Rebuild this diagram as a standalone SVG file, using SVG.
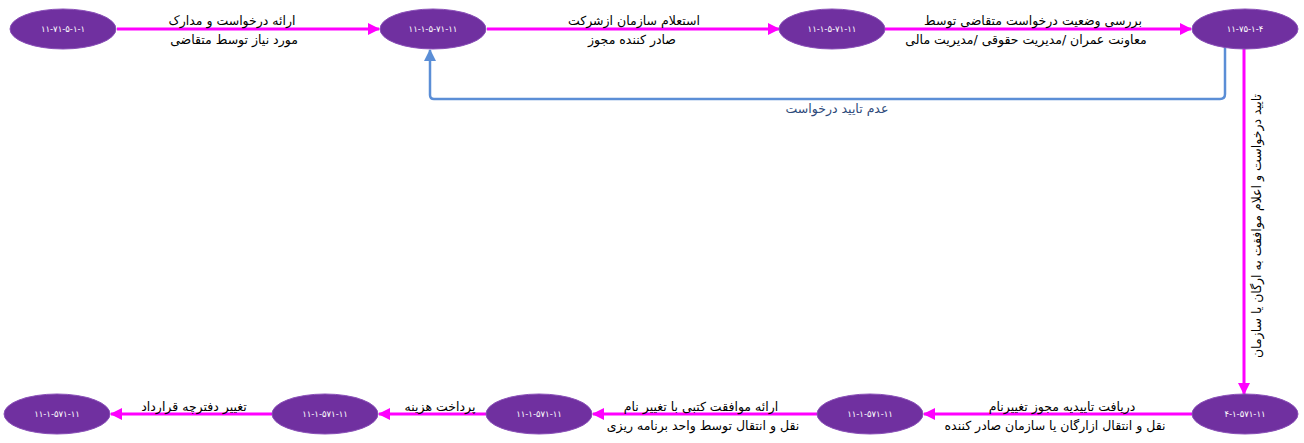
<svg xmlns="http://www.w3.org/2000/svg" width="1304" height="443" viewBox="0 0 1304 443">
<style>
.node ellipse{fill:#7030A0;stroke:#8A50B8;stroke-width:1}
.node text{fill:#ffffff;font-family:"DejaVu Sans","Noto Sans",sans-serif;font-size:8.5px;text-anchor:middle;direction:ltr;unicode-bidi:bidi-override}
.e{fill:none;stroke:#FF00FF;stroke-width:3}
.b{fill:none;stroke:#5B8ED6;stroke-width:2.5}
.lbl{font-family:"DejaVu Sans","Noto Sans",sans-serif;font-size:12.5px;fill:#000000;text-anchor:middle;direction:rtl}
.blbl{fill:#2E4A7A}
</style>
<defs>
<marker id="am" markerWidth="12" markerHeight="12" refX="11" refY="6" orient="auto" markerUnits="userSpaceOnUse">
<path d="M0,0 L12,6 L0,12 Z" fill="#FF00FF"/>
</marker>
<marker id="ab" markerWidth="12" markerHeight="12" refX="11" refY="6" orient="auto" markerUnits="userSpaceOnUse">
<path d="M0,0 L12,6 L0,12 Z" fill="#5B8ED6"/>
</marker>
</defs>
<g id="connectors">
<path class="e" d="M117,29 L379,29" marker-end="url(#am)"/>
<path class="e" d="M487,29 L779,29" marker-end="url(#am)"/>
<path class="e" d="M885,29 L1191,29" marker-end="url(#am)"/>
<path class="e" d="M1244,49 L1244,394" marker-end="url(#am)"/>
<path class="b" d="M1225,47 L1225,94 Q1225,99 1220,99 L434,99 Q430,99 430,95 L430,50" marker-end="url(#ab)"/>
<path class="e" d="M1192,414 L924,414" marker-end="url(#am)"/>
<path class="e" d="M817,414 L593,414" marker-end="url(#am)"/>
<path class="e" d="M486,414 L379,414" marker-end="url(#am)"/>
<path class="e" d="M272,414 L111,414" marker-end="url(#am)"/>
<text class="lbl" x="232" y="25">ارائه درخواست و مدارک</text>
<text class="lbl" x="234" y="44">مورد نیاز توسط متقاضی</text>
<text class="lbl" x="634" y="25">استعلام سازمان ازشرکت</text>
<text class="lbl" x="632" y="44">صادر کننده مجوز</text>
<text class="lbl" x="1033" y="25">بررسی وضعیت درخواست متقاضی توسط</text>
<text class="lbl" x="1026" y="44">معاونت عمران /مدیریت حقوقی /مدیریت مالی</text>
<text class="lbl blbl" x="837" y="113">عدم تایید درخواست</text>
<text class="lbl" transform="translate(1261,226) rotate(-90)" x="0" y="0">تایید درخواست و اعلام موافقت به ارگان یا سازمان</text>
<text class="lbl" x="1062" y="411">دریافت تاییدیه مجوز تغییرنام</text>
<text class="lbl" x="1055" y="430">نقل و انتقال ازارگان یا سازمان صادر کننده</text>
<text class="lbl" x="701" y="411">ارائه موافقت کتبی با تغییر نام</text>
<text class="lbl" x="703" y="430">نقل و انتقال توسط واحد برنامه ریزی</text>
<text class="lbl" x="440" y="411">پرداخت هزینه</text>
<text class="lbl" x="194" y="411">تغییر دفترچه قرارداد</text>
</g>
<g id="n1" class="node"><ellipse cx="63" cy="29" rx="53" ry="20"/><text x="63" y="32">۱۱-۷۱-۵-۱-۱</text></g>
<g id="n2" class="node"><ellipse cx="433" cy="29" rx="53" ry="20"/><text x="433" y="32">۱۱-۱-۵-۷۱-۱۱</text></g>
<g id="n3" class="node"><ellipse cx="832" cy="29" rx="53" ry="20"/><text x="832" y="32">۱۱-۱-۵-۷۱-۱۱</text></g>
<g id="n4" class="node"><ellipse cx="1245" cy="29" rx="53" ry="20"/><text x="1245" y="32">۱۱-۷۵-۱-۴</text></g>
<g id="n5" class="node"><ellipse cx="1245" cy="414" rx="53" ry="20"/><text x="1245" y="417">۴-۱-۵۷۱-۱۱</text></g>
<g id="n6" class="node"><ellipse cx="870" cy="414" rx="53" ry="20"/><text x="870" y="417">۱۱-۱-۵۷۱-۱۱</text></g>
<g id="n7" class="node"><ellipse cx="539" cy="414" rx="53" ry="20"/><text x="539" y="417">۱۱-۱-۵۷۱-۱۱</text></g>
<g id="n8" class="node"><ellipse cx="325" cy="414" rx="53" ry="20"/><text x="325" y="417">۱۱-۱-۵۷۱-۱۱</text></g>
<g id="n9" class="node"><ellipse cx="57" cy="414" rx="53" ry="20"/><text x="57" y="417">۱۱-۱-۵۷۱-۱۱</text></g>
</svg>
